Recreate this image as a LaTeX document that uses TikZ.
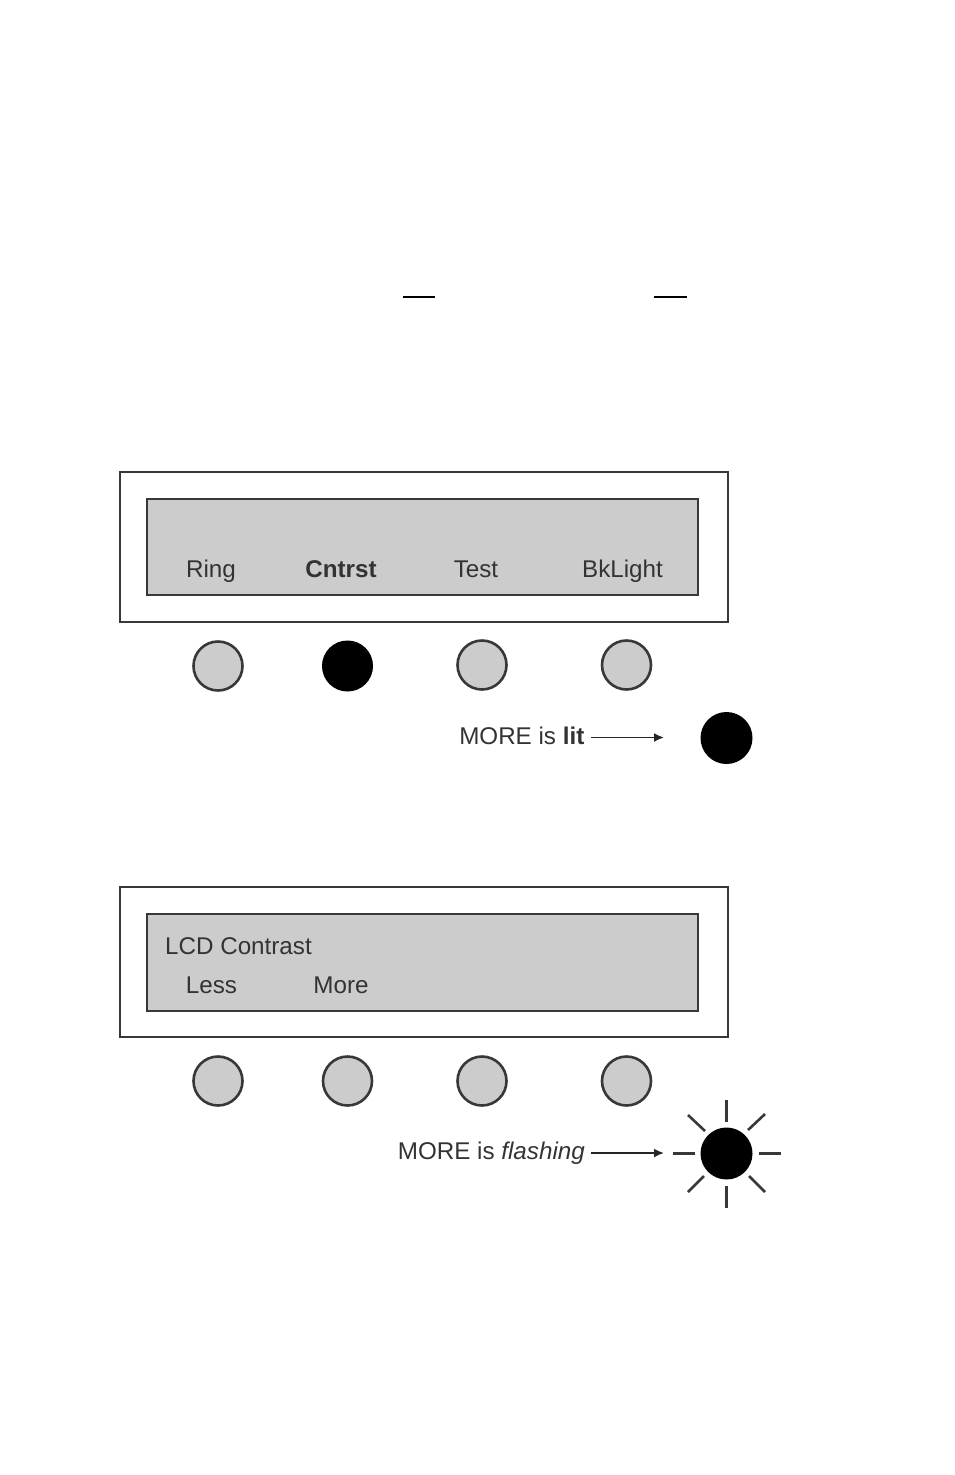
\documentclass[tikz,border=0pt]{standalone}
\usepackage{fontspec}
\setmainfont{Liberation Sans}
\usetikzlibrary{arrows.meta}
\definecolor{lcd}{gray}{0.80}
\definecolor{edge}{gray}{0.22}
\definecolor{txt}{gray}{0.20}
\tikzset{
  panel/.style={draw=edge,line width=2pt,fill=white,minimum width=608pt,minimum height=150pt,inner sep=0pt,anchor=center},
  lcdbox/.style={draw=edge,line width=2pt,fill=lcd,minimum width=551pt,minimum height=96pt,inner sep=0pt,anchor=center},
  btn/.style={circle,draw=edge,line width=2.6pt,fill=lcd,minimum size=49pt,inner sep=0pt},
  btnon/.style={circle,draw=black,line width=1pt,fill=black,minimum size=50pt,inner sep=0pt},
  led/.style={circle,fill=black,minimum size=52pt,inner sep=0pt},
  lbl/.style={text=txt,font=\fontsize{24.2}{28}\selectfont,inner sep=0pt,anchor=base},
  lblr/.style={lbl,anchor=base east},
  lbll/.style={lbl,anchor=base west},
  ptr/.style={draw=black!85,line width=1.7pt,-{Latex[length=10pt,width=9pt]}},
  ray/.style={draw=edge,line width=2.6pt},
  bar/.style={draw=black,line width=2pt}
}
\begin{document}
\begin{tikzpicture}[x=1pt,y=-1pt]
\useasboundingbox (0,0) rectangle (954,1475);
% top rules
\coordinate (ra) at (403,296.5); \coordinate (rb) at (435,296.5);
\coordinate (rc) at (654,296.5); \coordinate (rd) at (687,296.5);
\draw[bar] (ra) -- (rb);
\draw[bar] (rc) -- (rd);
% first panel
\node[panel] (p1) at (424,547) {};
\node[lcdbox] (l1) at (422.5,547) {};
\node[lbl] (t1a) at (211,577) {Ring};
\node[lbl,font=\fontsize{24.2}{28}\selectfont\bfseries] (t1b) at (341,577) {Cntrst};
\node[lbl] (t1c) at (476,577) {Test};
\node[lbl] (t1d) at (622.5,577) {BkLight};
\node[btn] (b1a) at (218,666) {};
\node[btnon] (b1b) at (347.5,666) {};
\node[btn] (b1c) at (482,665) {};
\node[btn] (b1d) at (626.5,665) {};
\node[lblr] (m1) at (584.5,744) {MORE is \textbf{lit}};
\node[led] (d1) at (726.5,738) {};
\coordinate (e1) at (664,737.5);
\draw[ptr] (591,737.5) -- (e1);
% second panel
\node[panel] (p2) at (424,962) {};
\node[lcdbox,minimum height=97pt] (l2) at (422.5,962) {};
\node[lbll] (t2z) at (165,954) {LCD Contrast};
\node[lbl] (t2a) at (211.5,993) {Less};
\node[lbl] (t2b) at (341,993) {More};
\node[btn] (b2a) at (218,1081) {};
\node[btn] (b2b) at (347.5,1081) {};
\node[btn] (b2c) at (482,1081) {};
\node[btn] (b2d) at (626.5,1081) {};
\node[lblr] (m2) at (585,1159) {MORE is \textit{flashing}};
\node[led] (d2) at (726.5,1153.5) {};
\coordinate (e2) at (664,1153);
\draw[ptr] (591,1153) -- (e2);
% rays
\foreach \n/\ax/\ay/\bx/\by in {
  r1/726.5/1100/726.5/1122,
  r2/726.5/1186/726.5/1208,
  r3/673/1153.5/695/1153.5,
  r4/759/1153.5/781/1153.5,
  r5/688/1115/705/1131,
  r6/765/1114/748/1130,
  r7/688/1192/704/1176,
  r8/765/1192/749/1176}{
  \coordinate (\n a) at (\ax,\ay);
  \coordinate (\n b) at (\bx,\by);
  \draw[ray] (\n a) -- (\n b);
}
\end{tikzpicture}
\end{document}
